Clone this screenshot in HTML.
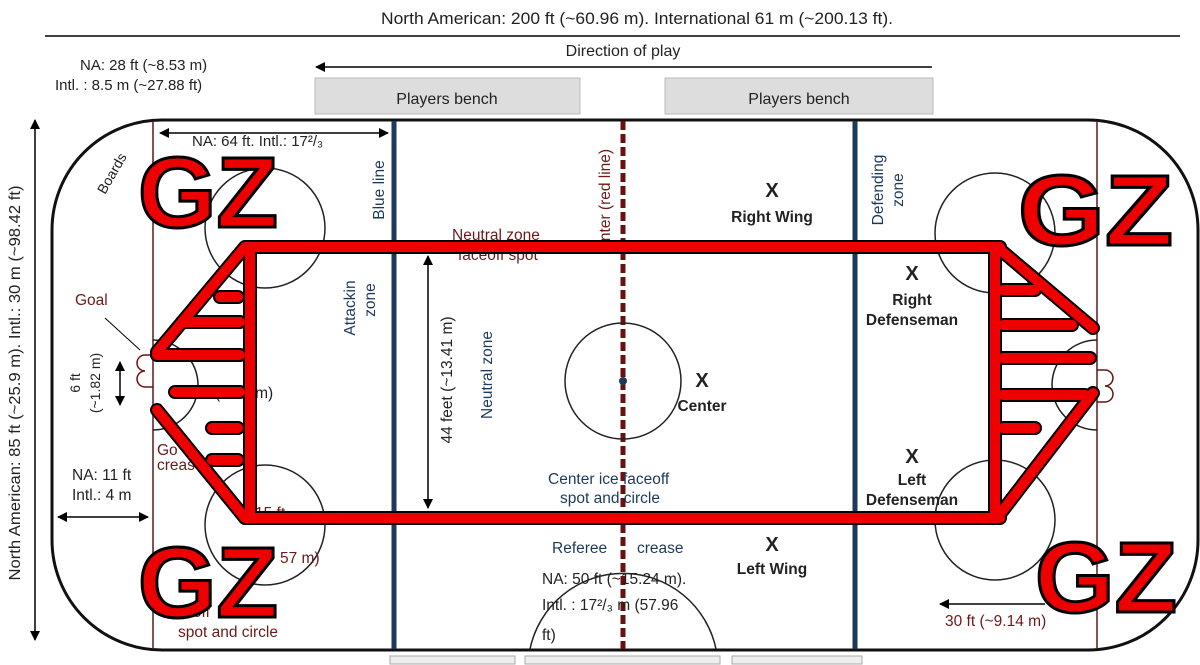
<!DOCTYPE html>
<html><head><meta charset="utf-8"><style>
html,body{margin:0;padding:0;background:#fff;width:1200px;height:665px;overflow:hidden}
svg{display:block;font-family:"Liberation Sans",sans-serif}
</style></head><body>
<svg width="1200" height="665" viewBox="0 0 1200 665" xmlns="http://www.w3.org/2000/svg">
<defs>
<marker id="ah" markerWidth="10" markerHeight="10" refX="9" refY="5" orient="auto-start-reverse" markerUnits="userSpaceOnUse"><path d="M0,0 L10,5 L0,10 z" fill="#000"/></marker>
</defs>
<rect width="1200" height="665" fill="#fff"/>
<text x="637" y="24" font-size="17" text-anchor="middle" fill="#222" textLength="512" lengthAdjust="spacingAndGlyphs">North American: 200 ft (~60.96 m). International 61 m (~200.13 ft).</text>
<line x1="45" y1="36" x2="1180" y2="36" stroke="#000" stroke-width="1.5"/>
<text x="623" y="56" font-size="16" text-anchor="middle" fill="#222">Direction of play</text>
<line x1="932" y1="67" x2="316" y2="67" stroke="#000" stroke-width="1.5" marker-end="url(#ah)"/>
<text x="80" y="70" font-size="15" fill="#222">NA: 28 ft (~8.53 m)</text>
<text x="55" y="90" font-size="15" fill="#222">Intl. : 8.5 m (~27.88 ft)</text>
<rect x="315" y="78" width="265" height="36" fill="#ddd" stroke="#bbb"/>
<rect x="665" y="78" width="268" height="36" fill="#ddd" stroke="#bbb"/>
<text x="447" y="104" font-size="16" text-anchor="middle" fill="#222">Players bench</text>
<text x="799" y="104" font-size="16" text-anchor="middle" fill="#222">Players bench</text>
<rect x="390" y="656" width="125" height="8" fill="#eee" stroke="#aaa"/>
<rect x="525" y="656" width="195" height="8" fill="#eee" stroke="#aaa"/>
<rect x="732" y="656" width="130" height="8" fill="#eee" stroke="#aaa"/>
<line x1="35" y1="120" x2="35" y2="640" stroke="#000" stroke-width="1.5" marker-start="url(#ah)" marker-end="url(#ah)"/>
<text transform="translate(20,383) rotate(-90)" font-size="16" text-anchor="middle" fill="#222" textLength="395" lengthAdjust="spacingAndGlyphs">North American: 85 ft (~25.9 m). Intl.: 30 m (~98.42 ft)</text>
<rect x="52" y="120" width="1146" height="530" rx="110" ry="110" fill="none" stroke="#111" stroke-width="3"/>
<line x1="153" y1="121" x2="153" y2="649" stroke="#5a1a1a" stroke-width="1.5"/>
<line x1="1097" y1="121" x2="1097" y2="649" stroke="#5a1a1a" stroke-width="1.5"/>
<line x1="394" y1="121" x2="394" y2="649" stroke="#1d3a5c" stroke-width="5"/>
<line x1="855" y1="121" x2="855" y2="649" stroke="#1d3a5c" stroke-width="5"/>
<line x1="623" y1="121" x2="623" y2="649" stroke="#6b1010" stroke-width="5" stroke-dasharray="9,4"/>
<g fill="none" stroke="#222" stroke-width="1.5">
<circle cx="265" cy="228" r="60"/><circle cx="265" cy="525" r="60"/>
<circle cx="995" cy="233" r="60"/><circle cx="995" cy="520" r="60"/>
<circle cx="623" cy="381" r="58"/>
<path d="M530,649 A95,95 0 0 1 716,649"/>
<path d="M153,340 a45,45 0 0 1 0,90" /><path d="M1097,340 a45,45 0 0 0 0,90"/>
</g>
<circle cx="623" cy="381" r="4" fill="#1d3a5c"/>
<path d="M153,355 h-8 a8,8 0 0 0 0,16 a8,8 0 0 0 0,16 h8" fill="none" stroke="#6b1010" stroke-width="1.5"/>
<path d="M1097,370 h8 a8,8 0 0 1 0,16 a8,8 0 0 1 0,16 h-8" fill="none" stroke="#6b1010" stroke-width="1.5"/>
<line x1="160" y1="133" x2="388" y2="133" stroke="#000" stroke-width="1.5" marker-start="url(#ah)" marker-end="url(#ah)"/>
<text x="192" y="146" font-size="15" fill="#222">NA: 64 ft. Intl.: 17²/₃</text>
<line x1="428" y1="256" x2="428" y2="508" stroke="#000" stroke-width="1.5" marker-start="url(#ah)" marker-end="url(#ah)"/>
<line x1="58" y1="517" x2="148" y2="517" stroke="#000" stroke-width="1.5" marker-start="url(#ah)" marker-end="url(#ah)"/>
<line x1="120" y1="362" x2="120" y2="405" stroke="#000" stroke-width="1.5" marker-start="url(#ah)" marker-end="url(#ah)"/>
<line x1="1045" y1="604" x2="940" y2="604" stroke="#000" stroke-width="1.5" marker-end="url(#ah)"/>
<line x1="105" y1="318" x2="140" y2="350" stroke="#000" stroke-width="1"/>
<g font-size="15.5" fill="#222">
<text transform="translate(105,195) rotate(-60)" font-size="14">Boards</text>
<text x="75" y="305" fill="#6b1a1a">Goal</text>
<text transform="translate(80,383) rotate(-90)" text-anchor="middle" font-size="14">6 ft</text>
<text transform="translate(100,383) rotate(-90)" text-anchor="middle" font-size="14">(~1.82 m)</text>
<text x="72" y="480">NA: 11 ft</text>
<text x="72" y="500">Intl.: 4 m</text>
<text x="215" y="398">(~2  3 m)</text>
<text x="157" y="455" fill="#6b1a1a">Go</text>
<text x="157" y="470" fill="#6b1a1a">creas</text>
<text x="255" y="518" fill="#6b1a1a">15 ft</text>
<text x="280" y="563" fill="#6b1a1a">57 m)</text>
<text x="180" y="617" fill="#6b1a1a">d          off</text>
<text x="178" y="637" fill="#6b1a1a">spot and circle</text>
<text transform="translate(384,190) rotate(-90)" text-anchor="middle" fill="#1d3a5c">Blue line</text>
<text transform="translate(355,308) rotate(-90)" text-anchor="middle" fill="#1d3a5c">Attackin</text>
<text transform="translate(375,300) rotate(-90)" text-anchor="middle" fill="#1d3a5c">zone</text>
<text x="452" y="240" fill="#6b1a1a">Neutral zone</text>
<text x="458" y="260" fill="#6b1a1a">faceoff spot</text>
<text transform="translate(452,380) rotate(-90)" text-anchor="middle">44 feet (~13.41 m)</text>
<text transform="translate(492,375) rotate(-90)" text-anchor="middle" fill="#1d3a5c">Neutral zone</text>
<text transform="translate(610,195) rotate(-90)" text-anchor="middle" fill="#6b1a1a">nter (red line)</text>
<text x="548" y="484" fill="#1d3a5c">Center ice faceoff</text>
<text x="560" y="503" fill="#1d3a5c">spot and circle</text>
<text x="552" y="553" fill="#1d3a5c">Referee</text>
<text x="637" y="553" fill="#1d3a5c">crease</text>
<text x="542" y="584">NA: 50 ft (~15.24 m).</text>
<text x="542" y="610">Intl. : 17²/₃ m (57.96</text>
<text x="542" y="640">ft)</text>
<text x="772" y="197" font-size="20" font-weight="bold" text-anchor="middle">X</text>
<text x="772" y="222" font-weight="bold" text-anchor="middle">Right Wing</text>
<text x="702" y="387" font-size="20" font-weight="bold" text-anchor="middle">X</text>
<text x="702" y="411" font-weight="bold" text-anchor="middle">Center</text>
<text x="772" y="551" font-size="20" font-weight="bold" text-anchor="middle">X</text>
<text x="772" y="574" font-weight="bold" text-anchor="middle">Left Wing</text>
<text transform="translate(883,190) rotate(-90)" text-anchor="middle" fill="#1d3a5c">Defending</text>
<text transform="translate(903,190) rotate(-90)" text-anchor="middle" fill="#1d3a5c">zone</text>
<text x="912" y="280" font-size="20" font-weight="bold" text-anchor="middle">X</text>
<text x="912" y="305" font-weight="bold" text-anchor="middle">Right</text>
<text x="912" y="325" font-weight="bold" text-anchor="middle">Defenseman</text>
<text x="912" y="463" font-size="20" font-weight="bold" text-anchor="middle">X</text>
<text x="912" y="485" font-weight="bold" text-anchor="middle">Left</text>
<text x="912" y="505" font-weight="bold" text-anchor="middle">Defenseman</text>
<text x="945" y="626" fill="#6b1a1a">30 ft (~9.14 m)</text>
</g>
<g stroke-linecap="round" fill="none">
<g stroke="#000" stroke-width="14">
<path d="M245,247 H1000 M245,518 H1000 M250,247 V518 M245,247 L157,352 M157,410 L245,518 M220,297 H238 M182,322 H240 M157,355 H240 M175,392 H240 M212,428 H238 M212,460 H238"/>
<path d="M995,247 V518 M997,247 L1093,328 M1093,393 L997,518 M1003,290 H1035 M1003,325 H1072 M1003,358 H1090 M1003,395 H1085 M1003,428 H1035"/>
</g>
<g stroke="#e00" stroke-width="10">
<path d="M245,247 H1000 M245,518 H1000 M250,247 V518 M245,247 L157,352 M157,410 L245,518 M220,297 H238 M182,322 H240 M157,355 H240 M175,392 H240 M212,428 H238 M212,460 H238"/>
<path d="M995,247 V518 M997,247 L1093,328 M1093,393 L997,518 M1003,290 H1035 M1003,325 H1072 M1003,358 H1090 M1003,395 H1085 M1003,428 H1035"/>
</g>
</g>
<g font-size="100" font-weight="bold" fill="#e00" stroke="#000" stroke-width="3">
<text x="138" y="227" textLength="140" lengthAdjust="spacingAndGlyphs">GZ</text>
<text x="138" y="617" textLength="140" lengthAdjust="spacingAndGlyphs">GZ</text>
<text x="1018" y="245" textLength="155" lengthAdjust="spacingAndGlyphs">GZ</text>
<text x="1035" y="612" textLength="142" lengthAdjust="spacingAndGlyphs">GZ</text>
</g>
</svg>
</body></html>
